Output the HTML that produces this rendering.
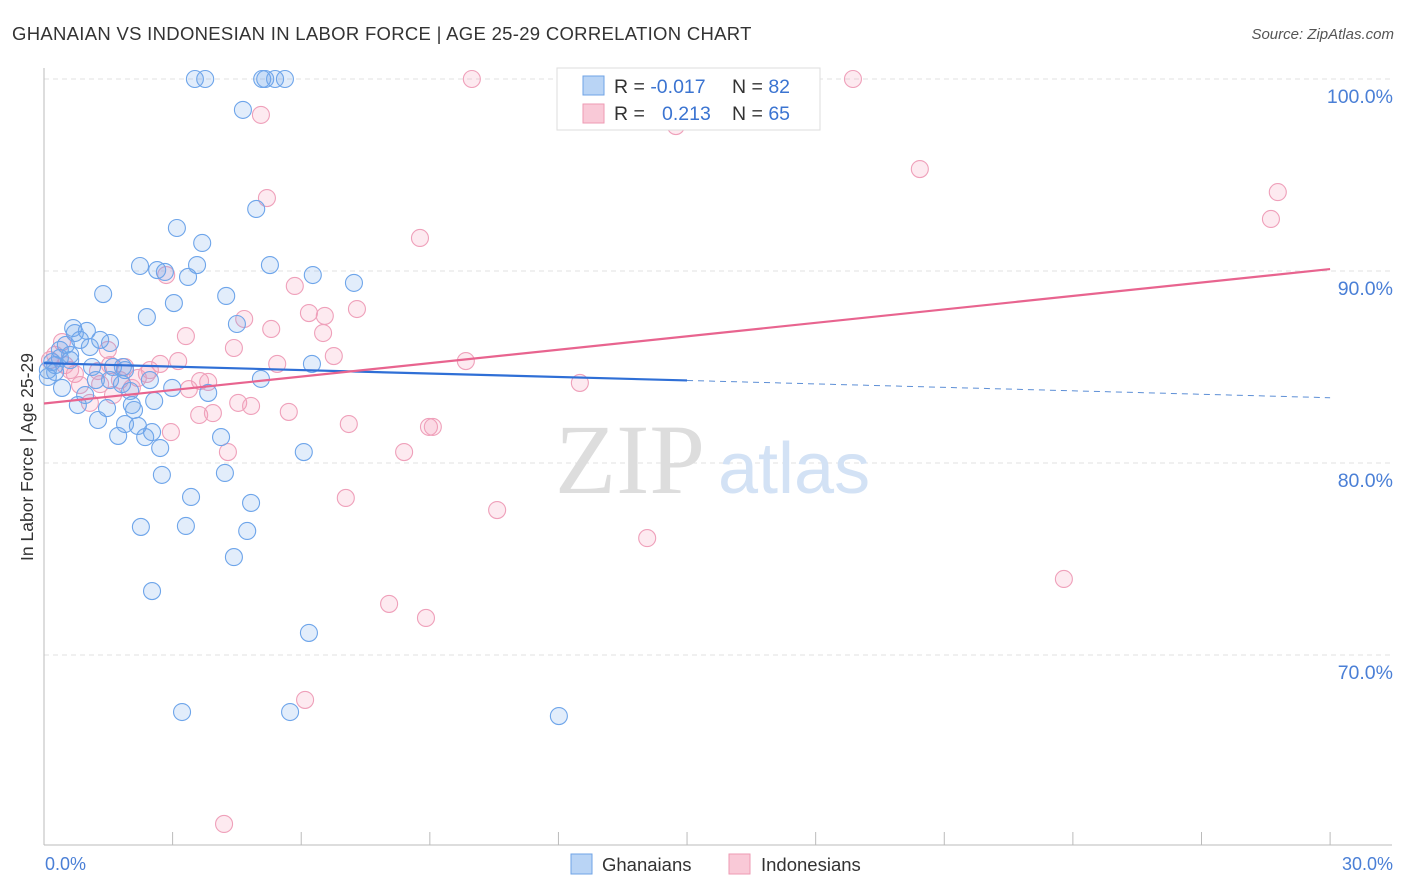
<!DOCTYPE html>
<html><head><meta charset="utf-8"><style>
body{margin:0;background:#fff;font-family:"Liberation Sans",sans-serif;}
svg{display:block}
</style></head><body>
<svg width="1406" height="892" viewBox="0 0 1406 892">
<text x="12" y="40" font-size="18.5" letter-spacing="0.3" fill="#333">GHANAIAN VS INDONESIAN IN LABOR FORCE | AGE 25-29 CORRELATION CHART</text>
<text x="1394" y="39" font-size="15" font-style="italic" fill="#555" text-anchor="end">Source: ZipAtlas.com</text>
<g id="grid"></g>
<text x="555" y="493" font-size="100" font-family="Liberation Serif,serif" fill="#ddd">ZIP</text>
<text x="718" y="493" font-size="72" fill="#d3e2f5">atlas</text>
<line x1="44" y1="68" x2="44" y2="845" stroke="#bbb"/>
<line x1="44" y1="845" x2="1392" y2="845" stroke="#bbb"/>
<g id="xt"></g>
<g id="yl"></g>
<text x="33" y="457" font-size="17.5" fill="#333" transform="rotate(-90 33 457)" text-anchor="middle">In Labor Force | Age 25-29</text>
<text x="45" y="870" font-size="18" fill="#4a7fd6">0.0%</text>
<text x="1393" y="870" font-size="18" fill="#4a7fd6" text-anchor="end">30.0%</text>
<g id="pts"></g>
<g id="trend"></g>
<g>
<rect x="557" y="68" width="263" height="62" fill="#fff" stroke="#ddd"/>
<rect x="583" y="76" width="21" height="19" fill="#b9d4f5" stroke="#6fa3e6"/>
<rect x="583" y="104" width="21" height="19" fill="#f9c9d7" stroke="#ee9ab3"/>
<text x="614" y="93" font-size="19.5" fill="#333">R = <tspan fill="#3b74d1">-0.017</tspan></text>
<text x="732" y="93" font-size="19.5" fill="#333">N = <tspan fill="#3b74d1">82</tspan></text>
<text x="614" y="120" font-size="19.5" fill="#333">R = </text>
<text x="662" y="120" font-size="19.5" fill="#3b74d1">0.213</text>
<text x="732" y="120" font-size="19.5" fill="#333">N = <tspan fill="#3b74d1">65</tspan></text>
</g>
<g>
<rect x="571" y="854" width="21" height="20" fill="#b9d4f5" stroke="#6fa3e6"/>
<text x="602" y="871" font-size="18.5" fill="#333">Ghanaians</text>
<rect x="729" y="854" width="21" height="20" fill="#f9c9d7" stroke="#ee9ab3"/>
<text x="761" y="871" font-size="18.5" fill="#333">Indonesians</text>
</g>
</svg>
<script>
const yTicks=[100,90,80,70];
const yTickLabels=["100.0%","90.0%","80.0%","70.0%"];
const xTicks=[3,6,9,12,15,18,21,24,27,30];
const bluePx=[[195,79],[205,79],[262,79],[265,79],[275,79],[285,79],[243,110],[256,209],[177,228],[202,243],[140,266],[157,270],[165,272],[188,277],[197,265],[270,265],[313,275],[354,283],[103,294],[226,296],[174,303],[147,317],[237,324],[73,328],[75,333],[87,331],[80,340],[66,345],[100,340],[110,343],[90,347],[60,358],[70,360],[52,362],[55,372],[48,377],[92,367],[113,367],[123,367],[62,388],[96,380],[122,384],[130,391],[172,388],[208,393],[261,379],[312,364],[154,401],[132,405],[78,405],[107,408],[134,410],[98,420],[125,424],[138,426],[152,432],[118,436],[145,437],[221,437],[160,448],[304,452],[162,475],[225,473],[191,497],[251,503],[141,527],[186,526],[247,531],[234,557],[152,591],[309,633],[182,712],[290,712],[559,716],[48,370],[55,365],[85,395],[110,380],[70,355],[60,350],[125,370],[150,380]];
const pinkPx=[[472,79],[853,79],[676,126],[261,115],[920,169],[1278,192],[1271,219],[267,198],[420,238],[166,275],[295,286],[309,313],[325,316],[357,309],[244,319],[186,336],[271,329],[323,333],[62,342],[108,350],[234,348],[334,356],[178,361],[466,361],[277,364],[160,364],[125,367],[98,371],[75,374],[147,374],[138,378],[200,381],[208,382],[189,389],[100,384],[580,383],[132,388],[238,403],[251,406],[90,403],[199,415],[213,413],[289,412],[349,424],[429,427],[433,427],[171,432],[228,452],[404,452],[346,498],[497,510],[647,538],[1064,579],[389,604],[426,618],[305,700],[224,824],[50,360],[55,355],[65,365],[120,380],[80,385],[70,370],[113,395],[150,370],[110,365]];
const ghanaX=bluePx.map(p=>+((p[0]-44)/42.87).toFixed(2));
const ghanaY=bluePx.map(p=>+(100-(p[1]-79)/19.2).toFixed(2));
const indoX=pinkPx.map(p=>+((p[0]-44)/42.87).toFixed(2));
const indoY=pinkPx.map(p=>+(100-(p[1]-79)/19.2).toFixed(2));
const blueTrend=[85.2,84.3,83.4];
const pinkTrend=[83.1,90.1];
const sx=v=>44+v*42.87, sy=v=>79+(100-v)*19.2;
const NS="http://www.w3.org/2000/svg";
function mk(t,a,p){const e=document.createElementNS(NS,t);for(const k in a)e.setAttribute(k,a[k]);p.appendChild(e);return e;}
const grid=document.getElementById('grid'),yl=document.getElementById('yl'),xt=document.getElementById('xt');
yTicks.forEach((v,i)=>{
 const l=mk('line',{x1:44,x2:1392,y1:sy(v),y2:sy(v),stroke:'#e2e2e2','stroke-dasharray':'5,4'},grid);
 
 
 const t=mk('text',{x:1393,y:sy(v)+24,'font-size':19.5,fill:'#4a7fd6','text-anchor':'end'},yl);
 t.textContent=yTickLabels[i];
 
 
});
xTicks.forEach(v=>{
 const l=mk('line',{x1:sx(v),x2:sx(v),y1:832,y2:845,stroke:'#bbb'},xt);
 
 
});
const pts=document.getElementById('pts');
indoX.forEach((x,i)=>{
 const c=mk('circle',{cx:sx(x),cy:sy(indoY[i]),r:8.5,fill:'rgba(244,150,180,0.2)',stroke:'#efa0ba','stroke-width':1.1},pts);
 
 
});
ghanaX.forEach((x,i)=>{
 const c=mk('circle',{cx:sx(x),cy:sy(ghanaY[i]),r:8.5,fill:'rgba(110,165,235,0.2)',stroke:'#6ea5ea','stroke-width':1.1},pts);
 
 
});
const tr=document.getElementById('trend');
let b1=mk('line',{x1:sx(0),y1:sy(blueTrend[0]),x2:sx(15),y2:sy(blueTrend[1]),stroke:'#2f6fd6','stroke-width':2.2},tr);


let b2=mk('line',{x1:sx(15),y1:sy(blueTrend[1]),x2:sx(30),y2:sy(blueTrend[2]),stroke:'#5d8fd6','stroke-width':1,'stroke-dasharray':'6,5'},tr);


let p1=mk('line',{x1:sx(0),y1:sy(pinkTrend[0]),x2:sx(30),y2:sy(pinkTrend[1]),stroke:'#e8648f','stroke-width':2.2},tr);


</script>
</body></html>
